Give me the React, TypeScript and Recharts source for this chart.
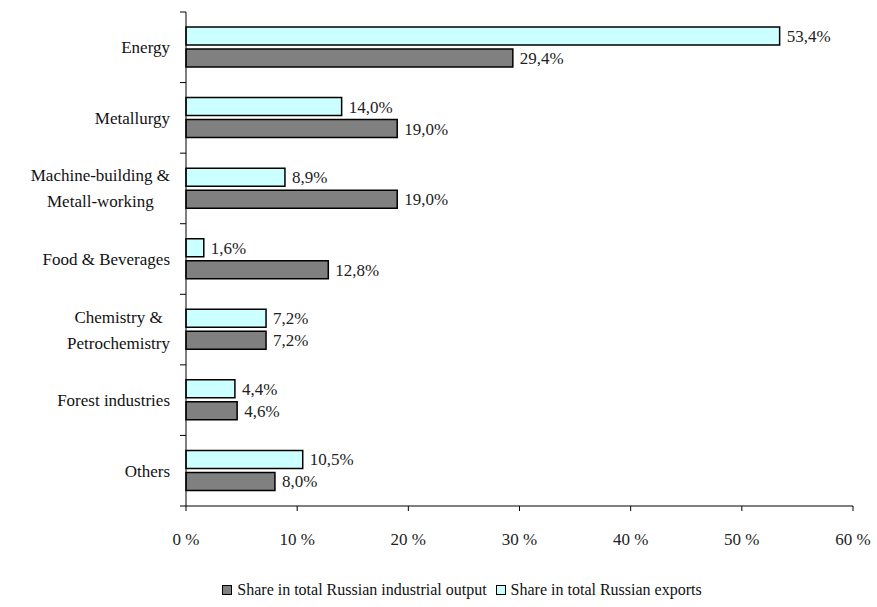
import React from "react";
import { BarChart, Bar, XAxis, YAxis, LabelList, Legend } from "recharts";

const categories = [
  "Energy",
  "Metallurgy",
  "Machine-building &\nMetall-working",
  "Food & Beverages",
  "Chemistry &\nPetrochemistry",
  "Forest industries",
  "Others",
];
const exportsShare = [53.4, 14.0, 8.9, 1.6, 7.2, 4.4, 10.5];
const outputShare = [29.4, 19.0, 19.0, 12.8, 7.2, 4.6, 8.0];
const xTicks = [0, 10, 20, 30, 40, 50, 60];
const seriesNames = {
  output: "Share in total Russian industrial output",
  exports: "Share in total Russian exports",
};

const data = categories.map((c, i) => ({
  name: c,
  exports: exportsShare[i],
  output: outputShare[i],
}));

const FONT = "Liberation Serif, DejaVu Serif, Times New Roman, serif";
const FS = 17;
const LEG_FS = 16;

let canvasCtx: CanvasRenderingContext2D | null = null;
function measure(t: string) {
  if (!canvasCtx) {
    const c = document.createElement("canvas");
    canvasCtx = c.getContext("2d");
  }
  if (!canvasCtx) return t.length * 7;
  canvasCtx.font = `${FS}px ${FONT}`;
  return canvasCtx.measureText(t).width;
}

const BAND = 494 / 7;

const CategoryTick = (props: any) => {
  const { x, y, payload, index } = props;
  const lines: string[] = String(payload.value).split("\n");
  const right = x - 8;
  const lh = 26;
  const startY = y - ((lines.length - 1) * lh) / 2;
  const maxW = Math.max(...lines.map(measure));
  const multi = lines.length > 1;
  return (
    <g>
      <line x1={x + 2} x2={x + 8} y1={y - BAND / 2} y2={y - BAND / 2} stroke="#000" strokeWidth={1} />
      {index === categories.length - 1 && (
        <line x1={x + 2} x2={x + 8} y1={y + BAND / 2} y2={y + BAND / 2} stroke="#000" strokeWidth={1} />
      )}
      <text
        x={multi ? right - maxW / 2 : right}
        y={startY}
        textAnchor={multi ? "middle" : "end"}
        dominantBaseline="central"
        style={{ fontFamily: FONT, fontSize: FS }}
        fill="#111"
      >
        {lines.map((l, i) => (
          <tspan key={i} x={multi ? right - maxW / 2 : right} dy={i === 0 ? 0 : lh}>
            {l}
          </tspan>
        ))}
      </text>
    </g>
  );
};

const fmt = (v: any) => Number(v).toFixed(1).replace(".", ",") + "%";

const LegendContent = () => {
  const items = [
    { name: seriesNames.output, color: "#808080" },
    { name: seriesNames.exports, color: "#CCFFFF" },
  ];
  return (
    <div
      style={{
        display: "flex",
        justifyContent: "center",
        alignItems: "center",
        fontFamily: FONT,
        fontSize: LEG_FS,
        color: "#111",
        paddingTop: 14,
        paddingLeft: 80,
      }}
    >
      {items.map((it, i) => (
        <span key={i} style={{ display: "inline-flex", alignItems: "center", marginRight: 9 }}>
          <span
            style={{
              display: "inline-block",
              width: 8,
              height: 8,
              background: it.color,
              border: "1.5px solid #000",
              marginRight: 5,
            }}
          />
          {it.name}
        </span>
      ))}
    </div>
  );
};

export default function App() {
  return (
    <div style={{ position: "absolute", left: 0, top: 0, width: 877, height: 607, background: "#fff" }}>
      <BarChart
        width={877}
        height={607}
        data={data}
        layout="vertical"
        margin={{ top: 12, right: 24, left: 0, bottom: 0 }}
        barSize={18}
        barGap={4}
        style={{ fontFamily: FONT }}
      >
        <XAxis
          type="number"
          domain={[0, 60]}
          ticks={xTicks}
          tickFormatter={(v) => `${v} %`}
          axisLine={{ stroke: "#000" }}
          tickLine={{ stroke: "#000" }}
          tickSize={5}
          tickMargin={22}
          height={61}
          tick={{ style: { fontFamily: FONT, fontSize: FS }, fill: "#222" }}
          interval={0}
        />
        <YAxis
          type="category"
          dataKey="name"
          width={186}
          axisLine={{ stroke: "#000" }}
          tickLine={false}
          tick={<CategoryTick />}
          interval={0}
        />
        <Legend verticalAlign="bottom" height={40} content={<LegendContent />} />
        <Bar dataKey="exports" fill="#CCFFFF" stroke="#000" strokeWidth={1.5} isAnimationActive={false}>
          <LabelList
            dataKey="exports"
            position="right"
            offset={7}
            formatter={fmt}
            style={{ fontFamily: FONT, fontSize: FS, fill: "#222" }}
          />
        </Bar>
        <Bar dataKey="output" fill="#808080" stroke="#000" strokeWidth={1.5} isAnimationActive={false}>
          <LabelList
            dataKey="output"
            position="right"
            offset={7}
            formatter={fmt}
            style={{ fontFamily: FONT, fontSize: FS, fill: "#222" }}
          />
        </Bar>
      </BarChart>
    </div>
  );
}
